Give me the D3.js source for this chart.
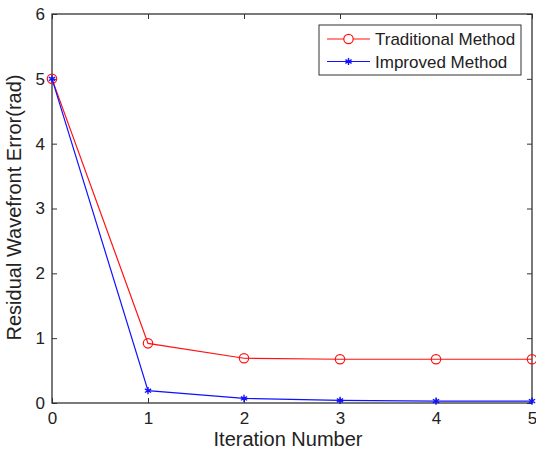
<!DOCTYPE html>
<html>
<head>
<meta charset="utf-8">
<script src="https://cdn.jsdelivr.net/npm/d3@7"></script>
<style>
  body { margin: 0; background: #fff; }
  text { font-family: Arial, "Liberation Sans", sans-serif; fill: #222; }
</style>
</head>
<body>
<div id="chart"></div>
<script>
// data
const iterations = [0, 1, 2, 3, 4, 5];
const traditional = [5, 0.92, 0.69, 0.675, 0.675, 0.675];
const improved = [5, 0.19, 0.07, 0.04, 0.03, 0.03];
const xTicks = [0, 1, 2, 3, 4, 5];
const yTicks = [0, 1, 2, 3, 4, 5, 6];
const seriesNames = ["Traditional Method", "Improved Method"];

const W = 536, H = 450;
const margin = {top: 14, right: 4, bottom: 47, left: 52},
    width = W - margin.left - margin.right,
    height = H - margin.top - margin.bottom;

const svg = d3.select("#chart")
  .append("svg")
    .attr("width", W)
    .attr("height", H)
  .append("g")
    .attr("transform", `translate(${margin.left}, ${margin.top})`);

const x = d3.scaleLinear().domain([0, 5]).range([0, width]);
const y = d3.scaleLinear().domain([0, 6]).range([height, 0]);

// frame
svg.append("rect")
  .attr("width", width).attr("height", height)
  .attr("fill", "none").attr("stroke", "#333").attr("stroke-width", 1.3);

// axes with inward ticks, mirrored on top/right
const styleAxis = g => {
  g.select(".domain").remove();
  g.selectAll(".tick line").attr("stroke", "#333");
  g.selectAll(".tick text").style("font-size", "17px").attr("fill", "#222");
};
svg.append("g")
  .attr("transform", `translate(0, ${height})`)
  .call(d3.axisBottom(x).tickValues(xTicks).tickSize(-5).tickPadding(9).tickFormat(d3.format("d")))
  .call(styleAxis);
svg.append("g")
  .call(d3.axisTop(x).tickValues(xTicks).tickSize(-5).tickFormat(""))
  .call(styleAxis);
svg.append("g")
  .call(d3.axisLeft(y).tickValues(yTicks).tickSize(-5).tickPadding(7).tickFormat(d3.format("d")))
  .call(styleAxis);
svg.append("g")
  .attr("transform", `translate(${width}, 0)`)
  .call(d3.axisRight(y).tickValues(yTicks).tickSize(-5).tickFormat(""))
  .call(styleAxis);

// axis titles
svg.append("text")
  .attr("x", width / 2 - 4).attr("y", height + 43)
  .attr("text-anchor", "middle").style("font-size", "20px")
  .text("Iteration Number");
svg.append("text")
  .attr("transform", `translate(-31, ${height / 2 - 1}) rotate(-90)`)
  .attr("text-anchor", "middle").style("font-size", "20px")
  .text("Residual Wavefront Error(rad)");

const line = d3.line().x((d, i) => x(iterations[i])).y(d => y(d));

// traditional
svg.append("path").datum(traditional)
  .attr("d", line).attr("fill", "none").attr("stroke", "#f11").attr("stroke-width", 1.2);
svg.selectAll(".circ").data(traditional).join("circle")
  .attr("cx", (d, i) => x(iterations[i])).attr("cy", d => y(d))
  .attr("r", 4.7).attr("fill", "none").attr("stroke", "#f11").attr("stroke-width", 1.2);

// improved
svg.append("path").datum(improved)
  .attr("d", line).attr("fill", "none").attr("stroke", "#11f").attr("stroke-width", 1.2);
const star = d3.symbol().type(d3.symbolAsterisk).size(36);
svg.selectAll(".star").data(improved).join("path")
  .attr("transform", (d, i) => `translate(${x(iterations[i])}, ${y(d)})`)
  .attr("d", star).attr("fill", "none").attr("stroke", "#11f").attr("stroke-width", 1.4);

// legend
const leg = svg.append("g").attr("transform", `translate(${319 - margin.left}, ${25 - margin.top})`);
leg.append("rect").attr("width", 202).attr("height", 50)
  .attr("fill", "#fff").attr("stroke", "#333").attr("stroke-width", 1);
const colors = ["#f11", "#11f"];
seriesNames.forEach((name, i) => {
  const cy = 14 + i * 22.5;
  leg.append("line").attr("x1", 8).attr("x2", 51).attr("y1", cy).attr("y2", cy)
    .attr("stroke", colors[i]).attr("stroke-width", 1.2);
  if (i === 0) {
    leg.append("circle").attr("cx", 29.5).attr("cy", cy).attr("r", 4.7)
      .attr("fill", "#fff").attr("stroke", colors[i]).attr("stroke-width", 1.2);
  } else {
    leg.append("path").attr("transform", `translate(29.5, ${cy})`)
      .attr("d", star).attr("fill", "none").attr("stroke", colors[i]).attr("stroke-width", 1.4);
  }
  leg.append("text").attr("x", 56).attr("y", cy + 6)
    .style("font-size", "17px").text(name);
});
</script>
</body>
</html>
